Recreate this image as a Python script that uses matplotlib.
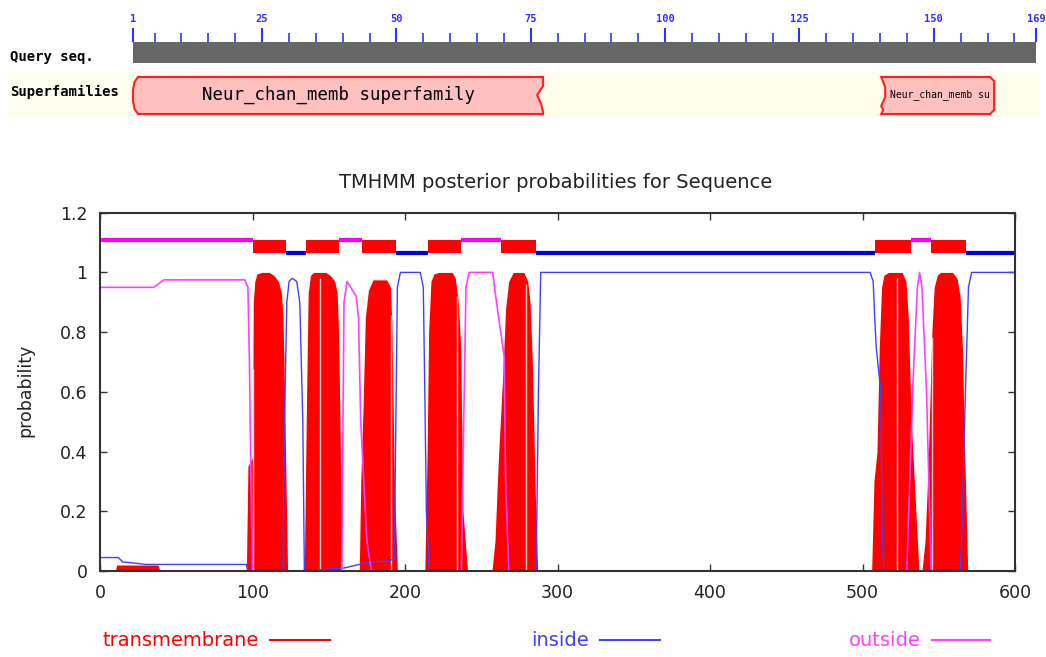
import numpy as np
import matplotlib.pyplot as plt
from matplotlib.patches import Rectangle, Polygon
from matplotlib.lines import Line2D

# ---- domain diagram (top) ----
seq_len = 169
ruler_labels = [1, 25, 50, 75, 100, 125, 150, 169]
ruler_minor = [v for v in range(5, 169, 5) if v not in ruler_labels]

dom_names = ["Neur_chan_memb superfamily", "Neur_chan_memb su"]
dom_start = [1, 140.2]
dom_end = [77.3, 161.2]

# ---- TMHMM posterior probabilities (bottom) ----
tm_x = [0, 10, 11, 38, 39, 96, 97, 100, 100.5, 101.5, 103, 106, 111, 114, 117, 119, 120,
        121, 122, 123,
        133, 134, 135.5, 136.5, 138, 140, 148, 151, 154, 155.5, 156.5, 157.5, 158.5,
        170, 171, 172.5, 174, 176, 179, 188, 190.5, 191.5, 193, 195,
        213, 214.5, 215.5, 217, 219, 222, 231, 233, 235, 236.5, 238, 241,
        257, 259, 261, 264, 266, 268, 271, 278, 280.5, 282, 283.5, 285.5, 287,
        506, 507.5, 509.5, 511, 512.5, 514, 517, 526, 528.5, 530, 532, 535, 537,
        539, 541, 543, 545.5, 547, 549, 551, 559, 562, 564, 565.5, 567, 569, 600]
tm_y = [0, 0, 0.02, 0.02, 0.005, 0.005, 0.35, 0.38, 0.9, 0.97, 0.995, 1.0, 1.0, 0.99,
        0.97, 0.93, 0.85, 0.6, 0.3, 0,
        0, 0.02, 0.6, 0.93, 0.99, 1.0, 1.0, 0.99, 0.97, 0.93, 0.8, 0.45, 0,
        0, 0.3, 0.55, 0.85, 0.94, 0.975, 0.975, 0.95, 0.8, 0.3, 0,
        0, 0.4, 0.8, 0.97, 0.995, 1.0, 1.0, 0.98, 0.9, 0.75, 0.2, 0,
        0, 0.1, 0.35, 0.65, 0.88, 0.97, 1.0, 1.0, 0.97, 0.9, 0.7, 0.25, 0,
        0, 0.3, 0.4, 0.75, 0.95, 0.99, 1.0, 1.0, 0.97, 0.85, 0.5, 0.2, 0,
        0, 0.1, 0.35, 0.8, 0.95, 0.99, 1.0, 1.0, 0.98, 0.92, 0.75, 0.4, 0, 0]
tm_streaks = [100.3, 144, 191, 234, 279.6, 522.6, 545.5]

inside_x = [0, 12, 15, 20, 30, 96, 97, 120, 121, 122.5, 124, 126, 129, 131, 133, 134,
            160, 175, 190, 193, 194, 195, 197, 210, 212, 213, 214, 216,
            286, 287.5, 289, 505, 507, 508, 509, 511, 512, 513, 514,
            564, 565, 567.5, 569.5, 571.5, 600]
inside_y = [0.045, 0.045, 0.03, 0.028, 0.022, 0.022, 0, 0, 0.5, 0.9, 0.97, 0.98, 0.97, 0.9,
            0.5, 0,
            0.01, 0.028, 0.035, 0.04, 0.5, 0.95, 1.0, 1.0, 0.95, 0.6, 0.2, 0,
            0, 0.6, 1.0, 1.0, 0.97, 0.85, 0.75, 0.65, 0.6, 0.1, 0,
            0, 0.1, 0.6, 0.95, 1.0, 1.0]

outside_x = [0, 35, 38, 42, 95, 97, 98, 99, 100, 158.5, 160, 162, 168, 169.5, 171, 175, 178,
             237, 238.5, 240, 242, 257.5, 260, 265, 266, 268,
             529, 531, 533, 536, 537.5, 539, 542, 543.5, 545, 600]
outside_y = [0.95, 0.95, 0.96, 0.975, 0.975, 0.95, 0.7, 0.3, 0, 0, 0.9, 0.97, 0.92, 0.85,
             0.5, 0.1, 0,
             0, 0.5, 0.95, 1.0, 1.0, 0.9, 0.72, 0.3, 0,
             0, 0.3, 0.62, 0.95, 1.0, 0.95, 0.6, 0.3, 0, 0]

topo_start = [0, 100, 122, 135, 157, 172, 194, 215, 237, 263, 286, 508, 532, 545, 568]
topo_end = [100, 122, 135, 157, 172, 194, 215, 237, 263, 286, 508, 532, 545, 568, 600]
topo_state = ["out", "TM", "in", "TM", "out", "TM", "in", "TM", "out", "TM", "in",
              "TM", "out", "TM", "in"]

W, H = 1046, 657
RED = "#ff0000"
BLUE = "#4040ff"
MAGENTA = "#ff40ff"
RULER_BLUE = "#3030ff"


def fx(p):
    return p / W


def fy(p):
    return 1 - p / H


fig = plt.figure(figsize=(W / 100, H / 100), dpi=100)

# top panel: x in residues, y in pixel rows from the top of the image
res_px = (1036 - 133) / (seq_len - 1)


def px2r(p):
    return p / res_px


ax_top = fig.add_axes([0, fy(130), 1, 130 / H])
ax_top.set_xlim(1 - px2r(133), 1 + px2r(W - 133))
ax_top.set_ylim(130, 0)
ax_top.axis("off")

for v in ruler_labels:
    ax_top.plot([v, v], [28, 42], color=RULER_BLUE, lw=1.5, solid_capstyle="butt")
    ax_top.text(v, 19, str(v), color=RULER_BLUE, fontsize=7.5, fontweight="bold",
                family="DejaVu Sans Mono", ha="center", va="center")
for v in ruler_minor:
    ax_top.plot([v, v], [33, 42], color=RULER_BLUE, lw=1.2, solid_capstyle="butt")

ax_top.add_patch(Rectangle((1, 42), seq_len - 1, 21, color="#666666", lw=0))
ax_top.add_patch(Rectangle((1 - px2r(125), 72), px2r(1032), 45, color="#fdfdee", lw=0))

ax_top.text(1 - px2r(123), 57, "Query seq.", fontsize=10, fontweight="bold",
            family="DejaVu Sans Mono", va="center", ha="left")
ax_top.text(1 - px2r(123), 92, "Superfamilies", fontsize=10, fontweight="bold",
            family="DejaVu Sans Mono", va="center", ha="left")

top, bot = 77, 114
# first domain: rounded start, torn end
s, e = dom_start[0], dom_end[0]
verts = [(s + px2r(5), top), (e, top), (e, 86), (e - px2r(6), 95), (e - px2r(2), 104),
         (e, 112), (e, bot), (s + px2r(5), bot), (s + px2r(1.5), 109), (s, 101),
         (s, 90), (s + px2r(1.5), 82)]
ax_top.add_patch(Polygon(verts, closed=True, facecolor="#ffc0c0", edgecolor="#ff2020", lw=1.5))
ax_top.text((s + e) / 2, 95, dom_names[0], fontsize=12.5, family="DejaVu Sans Mono",
            ha="center", va="center")
# second domain: torn start, pointed end
s, e = dom_start[1], dom_end[1]
verts = [(s, top), (e - px2r(4), top), (e, 81), (e, 110), (e - px2r(4), bot), (s, bot),
         (s + px2r(2), 110), (s, 106), (s + px2r(4), 97), (s + px2r(4), 87)]
ax_top.add_patch(Polygon(verts, closed=True, facecolor="#ffc0c0", edgecolor="#ff2020", lw=1.5))
ax_top.text((s + e) / 2 + px2r(2), 95, dom_names[1], fontsize=7, family="DejaVu Sans Mono",
            ha="center", va="center")

# bottom panel: TMHMM plot
ax = fig.add_axes([fx(100), fy(571), fx(1015) - fx(100), (571 - 212.7) / H])
ax.set_xlim(0, 600)
ax.set_ylim(0, 1.2)

ax.fill_between(tm_x, 0, tm_y, color=RED, lw=0)
streak_top = np.interp(tm_streaks, tm_x, tm_y) * 0.98
ax.vlines(tm_streaks, 0, streak_top, color="#ffc8c8", lw=1)
ax.plot(inside_x, inside_y, color=BLUE, lw=1)
ax.plot(outside_x, outside_y, color=MAGENTA, lw=1.2)

for s, e, st in zip(topo_start, topo_end, topo_state):
    if st == "TM":
        ax.add_patch(Rectangle((s, 1.064), e - s, 0.046, color=RED, lw=0))
    elif st == "in":
        ax.plot([s, e], [1.066, 1.066], color="#0000dd", lw=3, solid_capstyle="butt")
    else:
        ax.plot([s, e], [1.107, 1.107], color="#ff00ff", lw=3, solid_capstyle="butt")

ax.set_xticks([0, 100, 200, 300, 400, 500, 600])
ax.set_yticks([0, 0.2, 0.4, 0.6, 0.8, 1.0, 1.2])
ax.set_yticklabels(["0", "0.2", "0.4", "0.6", "0.8", "1", "1.2"])
ax.tick_params(direction="in", top=True, right=True, length=5, width=1,
               labelsize=12.5, pad=9, colors="#333333", labelcolor="#222222")
for sp in ax.spines.values():
    sp.set_color("#333333")
    sp.set_linewidth(1.5)

fig.text(fx(556), fy(183), "TMHMM posterior probabilities for Sequence",
         fontsize=14, ha="center", va="center", color="#222222")
fig.text(fx(25), fy(390), "probability", rotation=90, fontsize=12.5,
         ha="center", va="center", color="#222222")

# legend: label sits just left of its sample line
legend = [("transmembrane", RED, 270, 330),
          ("inside", BLUE, 600, 660),
          ("outside", MAGENTA, 932, 990)]
for label, col, l0, l1 in legend:
    fig.text(fx(l0 - 11), fy(640), label, color=col, fontsize=14, ha="right", va="center")
    fig.add_artist(Line2D([fx(l0), fx(l1)], [fy(640), fy(640)], color=col, lw=1.5))

fig.savefig("out.png", dpi=100)
